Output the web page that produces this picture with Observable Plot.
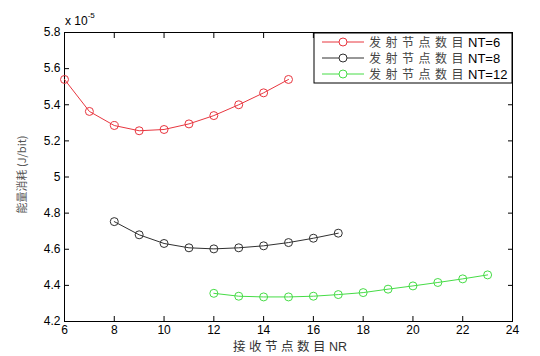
<!DOCTYPE html>
<html><head><meta charset="utf-8">
<script src="https://cdn.jsdelivr.net/npm/d3@7"></script>
<script src="https://cdn.jsdelivr.net/npm/@observablehq/plot@0.6"></script>
<style>
body{margin:0;background:#fff;}
#wrap{position:relative;width:540px;height:356px;}
</style></head><body><div id="wrap"></div>
<script>
// Series: energy consumption (x 1e-5 J/bit) vs number of receiving nodes NR
const nrNT6 = [6,7,8,9,10,11,12,13,14,15];
const eNT6  = [5.54,5.363,5.285,5.256,5.263,5.294,5.34,5.40,5.466,5.54];
const nrNT8 = [8,9,10,11,12,13,14,15,16,17];
const eNT8  = [4.753,4.68,4.632,4.608,4.602,4.608,4.619,4.637,4.661,4.689];
const nrNT12 = [12,13,14,15,16,17,18,19,20,21,22,23];
const eNT12  = [4.356,4.34,4.336,4.336,4.34,4.349,4.36,4.379,4.397,4.416,4.436,4.458];

const seriesNames = ["发射节点数目NT=6","发射节点数目NT=8","发射节点数目NT=12"];
const seriesColors = ["#e8363f","#303030","#46dc46"];
const xTicks = [6,8,10,12,14,16,18,20,22,24];
const yTicks = [4.2,4.4,4.6,4.8,5.0,5.2,5.4,5.6,5.8];
const xLabel = "接收节点数目NR";
const yLabel = "能量消耗 (J/bit)";

const data = [
  ...nrNT6.map((x,i)=>({x, y:eNT6[i], s:seriesNames[0]})),
  ...nrNT8.map((x,i)=>({x, y:eNT8[i], s:seriesNames[1]})),
  ...nrNT12.map((x,i)=>({x, y:eNT12[i], s:seriesNames[2]}))
];

const fmtY = d => d === 5 ? "5" : d.toFixed(1);

const chart = Plot.plot({
  width: 540, height: 356,
  marginLeft: 64, marginRight: 28, marginTop: 32, marginBottom: 35,
  style: {fontFamily: "'Liberation Sans', Arial, sans-serif", fontSize: "12px", color: "#000", background: "#fff"},
  x: {domain: [6,24]},
  y: {domain: [4.2,5.8]},
  color: {domain: seriesNames, range: seriesColors},
  marks: [
    Plot.frame({stroke: "#000", strokeWidth: 1}),
    Plot.axisX(xTicks, {anchor: "bottom", tickSize: 0, tickPadding: 4, label: null}),
    Plot.axisY(yTicks, {anchor: "left", tickSize: 0, tickPadding: 4, tickFormat: fmtY, label: null}),
    Plot.axisX(xTicks, {anchor: "bottom", tickSize: 5, dy: -5, fill: "none", label: null}),
    Plot.axisX(xTicks, {anchor: "top", tickSize: 5, dy: 5, fill: "none", label: null}),
    Plot.axisY(yTicks, {anchor: "left", tickSize: 5, dx: 5, fill: "none", label: null}),
    Plot.axisY(yTicks, {anchor: "right", tickSize: 5, dx: -5, fill: "none", label: null}),
    Plot.line(data, {x: "x", y: "y", z: "s", stroke: "s", strokeWidth: 1}),
    Plot.dot(data, {x: "x", y: "y", stroke: "s", r: 4, fill: "none", strokeWidth: 1})
  ]
});
document.getElementById("wrap").appendChild(chart);

const svg = d3.select(chart);
const xs = chart.scale("x"), ys = chart.scale("y");
const pLeft = xs.range[0], pRight = xs.range[1], pTop = ys.range[1], pBottom = ys.range[0];

// exponent label
const ex = svg.append("text").attr("x", pLeft + 1).attr("y", pTop - 7).attr("text-anchor", "start")
  .style("font-family", "'Liberation Sans', Arial, sans-serif").style("font-size", "12px").attr("fill", "#000");
ex.append("tspan").text("x 10");
ex.append("tspan").attr("dy", -7).style("font-size", "8px").text("-5");

// x label
const xl = svg.append("text").attr("x", (pLeft + pRight) / 2 + 2).attr("y", pBottom + 30)
  .attr("text-anchor", "middle").attr("fill", "#333").style("font-size", "12.5px");
xl.append("tspan").style("font-family", "'Noto Sans CJK SC', sans-serif").style("letter-spacing", "3.5px")
  .text(xLabel.replace("NR", ""));
xl.append("tspan").style("font-family", "'Liberation Sans', Arial, sans-serif").text("NR");

// y label
svg.append("text").attr("transform", `translate(26,${(pTop + pBottom) / 2 - 2}) rotate(-90)`)
  .attr("text-anchor", "middle").attr("fill", "#555")
  .style("font-family", "'Noto Sans CJK SC', sans-serif").style("font-size", "11px")
  .text(yLabel);

// legend
const lg = svg.append("g");
const lx0 = pRight - 198, ly0 = pTop + 1, lw = 198, lh = 50;
lg.append("rect").attr("x", lx0).attr("y", ly0).attr("width", lw).attr("height", lh)
  .attr("fill", "#fff").attr("stroke", "#000").attr("stroke-width", 1);
seriesNames.forEach((name, i) => {
  const yy = ly0 + 9 + i * 16;
  lg.append("line").attr("x1", lx0 + 8).attr("x2", lx0 + 50).attr("y1", yy).attr("y2", yy)
    .attr("stroke", seriesColors[i]).attr("stroke-width", 1);
  lg.append("circle").attr("cx", lx0 + 29).attr("cy", yy).attr("r", 4)
    .attr("fill", "#fff").attr("stroke", seriesColors[i]);
  const t = lg.append("text").attr("x", lx0 + 55).attr("y", yy + 4.5).attr("text-anchor", "start")
    .style("font-size", "12px").attr("fill", "#444");
  t.append("tspan").style("font-family", "'Noto Sans CJK SC', sans-serif").style("letter-spacing", "4.5px")
    .text(name.replace(/NT=.*/, ""));
  t.append("tspan").style("font-family", "'Liberation Sans', Arial, sans-serif").attr("fill", "#000")
    .style("font-size", "13px").text(name.match(/NT=.*/)[0]);
});
</script>
</body></html>
